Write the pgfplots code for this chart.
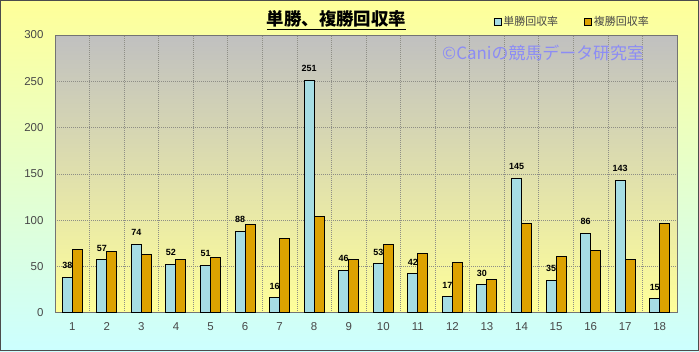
\documentclass[border=0pt]{standalone}
\usepackage{pgfplots}
\pgfplotsset{compat=1.18}
\usepackage{fontspec}
\setmainfont{Liberation Sans}
\newfontfamily\jp{Noto Sans CJK JP}
\definecolor{bgtop}{HTML}{FFFF99}
\definecolor{bgbot}{HTML}{CCFFFF}
\definecolor{patop}{HTML}{C0C0C0}
\definecolor{pabot}{HTML}{FFFF99}
\definecolor{blueedge}{HTML}{A6DDE4}
\definecolor{bluemid}{HTML}{D8FCFC}
\definecolor{goldedge}{HTML}{DDA200}
\definecolor{goldmid}{HTML}{FFD000}
\definecolor{wm}{HTML}{8C8CF5}
\definecolor{gridc}{HTML}{8E8E86}
\pgfplotstableread{
x tan fuku
1 38 68
2 57 66
3 74 63
4 52 57
5 51 60
6 88 95
7 16 80
8 251 104
9 46 58
10 53 74
11 42 64
12 17 54
13 30 36
14 145 96
15 35 61
16 86 67
17 143 58
18 15 96
}\data
\begin{document}
\begin{tikzpicture}[x=1bp,y=1bp]
\shade[top color=bgtop, bottom color=bgbot] (0,0) rectangle (699,351);
\shade[top color=patop, bottom color=pabot] (55,38.3) rectangle (677,316);
\draw[black!70, line width=1bp] (0.5,0.5) rectangle (698.5,350.5);
\begin{axis}[
  /pgf/number format/assume math mode=true,
  at={(55bp,38.3bp)}, anchor=south west,
  scale only axis, width=622bp, height=277.7bp,
  xmin=0.5, xmax=18.5, ymin=0, ymax=300,
  enlargelimits=false,
  xtick={1,...,18}, ytick={0,50,...,300},
  minor xtick={1.5,2.5,...,17.5},
  xminorgrids=true, ymajorgrids=true,
  grid style={color=gridc, dash pattern=on 1bp off 1bp, line width=0.6bp},
  minor grid style={color=gridc, dash pattern=on 1bp off 1bp, line width=0.6bp},
  major tick length=0pt, minor tick length=0pt,
  axis line style={color=black!55, line width=0.9bp},
  tick label style={font=\fontsize{11.5}{11.5}\selectfont, text=black!72},
  xticklabel style={yshift=-6bp},
  yticklabel style={xshift=-8bp},
  ybar=0pt, bar width=10bp,
  legend style={at={(axis description cs:0.700,1.047)}, anchor=west,
    draw=none, fill=none, legend columns=2,
    font=\jp\fontsize{11}{11}\selectfont, text=black!72,
    /tikz/every even column/.append style={column sep=24bp}},
  legend image code/.code={\draw[#1, draw=black, line width=0.8bp] (0bp,-3.5bp) rectangle (7bp,3.5bp);},
]
\addplot[draw=black, line width=1bp, left color=blueedge, middle color=bluemid, right color=blueedge,
  nodes near coords,
  nodes near coords style={font=\fontsize{9}{9}\selectfont\bfseries, text=black, anchor=south, inner sep=0pt, yshift=8bp}]
  table[x=x, y=tan] {\data};
\addlegendentry{単勝回収率}
\addplot[draw=black, line width=1bp, left color=goldedge, middle color=goldmid, right color=goldedge]
  table[x=x, y=fuku] {\data};
\addlegendentry{複勝回収率}
\end{axis}
\node[font=\jp\bfseries\fontsize{17.5}{17.5}\selectfont] at (336.5,331) {\underline{単勝、複勝回収率}};
\node[font=\jp\fontsize{17}{17}\selectfont, text=wm, anchor=west, inner sep=0pt] at (442,298) {©Caniの競馬データ研究室};
\end{tikzpicture}
\end{document}
